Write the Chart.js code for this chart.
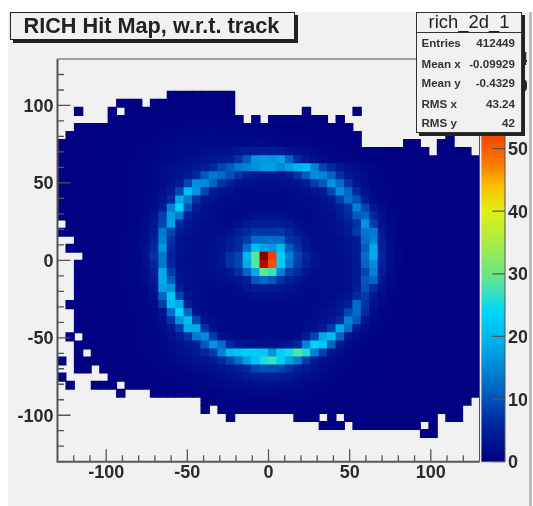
<!DOCTYPE html>
<html><head><meta charset="utf-8">
<script src="https://cdn.jsdelivr.net/npm/chart.js@4"></script>
<style>
html,body{margin:0;padding:0;background:#fff;width:533px;height:506px;overflow:hidden}
#wrap{position:absolute;left:0;top:0;width:533px;height:506px;filter:blur(0.55px);font-family:"Liberation Sans",Arial,sans-serif;color:#222}
#panel{position:absolute;left:8px;top:12px;width:521px;height:494px;background:#f1f1f1}
#strip{position:absolute;left:529px;top:12px;width:3px;height:494px;background:#bdbdbd}
canvas{position:absolute;top:0}
#main{left:0}
#bar{left:476px}
#title{position:absolute;left:10px;top:12px;width:283px;height:26px;border:1.4px solid #222;box-shadow:3px 3px 0 #222;background:#f1f1f1;box-sizing:content-box;font-weight:bold;font-size:21.7px;line-height:26px;white-space:nowrap;text-indent:12.5px}
#stats{position:absolute;left:416px;top:12px;width:104px;height:119px;border:1.2px solid #333;box-shadow:3px 3px 0 #222;background:#f1f1f1}
#stats .h{position:absolute;left:0;right:0;top:0;height:19px;border-bottom:1.2px solid #333;text-align:center;font-size:18.4px;line-height:18px}
#stats .r{position:absolute;left:4.5px;right:6px;font-size:11.6px;font-weight:bold;line-height:14px;color:#333}
#stats .r span{position:absolute;right:0;top:0}
</style></head><body>
<div id="wrap">
<div id="panel"></div><div id="strip"></div>
<canvas id="main" width="533" height="506"></canvas>
<canvas id="bar" width="51" height="506"></canvas>
<div id="title">RICH Hit Map, w.r.t. track</div>
<div id="stats"><div class="h">rich_2d_1</div></div>
</div>
<script>
const _ = null;
const titleText = "RICH Hit Map, w.r.t. track";
const xMin = -130, xMax = 130, yMin = -130, yMax = 130, binCount = 50, zMax = 643, bandCount = 160;
const statLabels = ["Entries","Mean x","Mean y","RMS x","RMS y"];
const statValues = ["412449","-0.09929","-0.4329","43.24","42"];
const statTops = [35,55.5,75,96,115];
const zTicks = [0,100,200,300,400,500,600];
const paletteValues = [0,60,100,150,200,240,270,300,350,400,440,470,500,550,600,643];
const paletteColors = [[0,0,128],[0,40,160],[0,85,185],[0,135,215],[0,185,240],[0,215,250],[60,225,190],[110,230,130],[170,235,70],[225,240,20],[250,190,0],[250,130,0],[250,90,0],[240,40,0],[180,10,0],[130,0,0]];
// Bin contents, top row (y = +130) first, left column (x = -130) first
const counts = [
[],[],[],[],
[_,_,_,_,_,_,_,_,_,_,_,_,_,3,3,4,4,4,3,3,3],
[_,_,_,_,_,_,_,3,3,3,_,3,3,3,4,4,4,5,5,4,4],
[_,_,3,_,_,_,3,_,3,3,3,4,4,5,5,5,6,6,6,5,5,_,_,_,_,_,_,_,_,3,_,_,_,_,_,3],
[_,_,_,_,_,_,3,3,3,4,4,5,5,6,6,7,8,8,8,7,7,6,_,5,_,5,5,4,4,3,3,3,_,3],
[_,_,3,3,3,3,3,4,4,5,5,6,7,8,8,9,10,10,10,9,9,8,8,7,7,7,6,6,5,5,4,4,3,3,3],
[_,3,3,3,3,3,4,4,5,5,6,7,8,9,10,11,12,13,13,12,12,11,10,10,9,9,8,8,7,6,6,5,4,4,3,3,_,_,_,_,_,_,_,_,_,_,3],
[3,3,3,3,3,4,4,5,5,6,7,8,10,12,13,14,15,16,17,16,16,15,15,14,14,13,12,11,10,9,8,7,6,5,4,3,_,_,_,_,_,3,3,_,_,3,3],
[3,3,3,3,4,4,5,5,6,7,9,11,13,15,17,19,20,22,24,25,28,34,40,40,42,42,38,30,22,16,13,10,9,8,7,6,5,4,4,3,3,3,3,3,_,3,3,3,3],
[3,3,3,3,4,4,5,6,7,8,10,12,15,18,20,23,26,30,34,38,45,69,105,165,170,165,175,115,60,38,25,16,12,10,8,7,6,5,4,4,3,3,3,3,3,3,3,3,3,3],
[3,3,3,3,4,4,5,6,7,9,11,14,18,22,26,30,38,45,60,87,105,135,145,155,175,175,150,175,195,205,145,87,60,35,25,18,12,9,7,5,4,4,3,3,3,3,3,3,3,3],
[3,3,3,3,4,4,5,6,7,9,11,14,18,24,30,40,60,105,135,125,96,69,45,38,35,35,35,38,69,105,155,145,115,69,38,25,16,11,8,6,4,4,3,3,3,3,3,3,3,3],
[3,3,3,3,4,4,5,6,8,9,11,14,20,28,40,87,155,155,115,69,45,30,25,22,22,22,22,24,28,38,78,105,165,125,69,32,18,12,8,6,4,4,3,3,3,3,3,3,3,3],
[3,3,3,3,4,4,5,6,8,10,12,16,22,40,87,205,165,87,40,28,22,20,18,18,18,18,18,18,20,24,30,40,87,155,115,60,30,16,10,7,5,4,3,3,3,3,3,3,3,3],
[3,3,3,3,4,4,5,6,8,10,12,18,30,60,185,135,69,35,25,20,18,17,16,16,16,16,16,17,18,20,24,28,38,78,125,96,38,20,12,8,5,4,3,3,3,3,3,3,3,3],
[3,3,3,3,4,4,5,6,8,10,13,20,45,145,235,96,40,25,20,18,16,16,16,16,16,16,16,16,16,18,20,24,30,45,69,145,87,35,16,10,6,4,3,3,3,3,3,3,3,3],
[3,3,3,3,4,4,5,6,8,10,14,28,78,170,140,50,28,22,18,16,16,16,18,22,24,24,22,18,16,16,18,22,26,38,60,105,115,60,25,12,7,5,3,3,3,3,3,3,3,3],
[_,3,3,3,4,4,5,6,8,11,16,35,87,175,60,32,24,20,18,18,20,22,38,45,45,45,45,38,22,18,18,20,24,30,45,69,165,78,30,14,8,5,4,3,3,3,3,3,3,3],
[3,3,3,3,4,4,5,7,9,12,18,40,135,87,38,28,22,20,20,22,28,45,60,72,70,70,72,60,35,24,20,20,22,28,38,78,135,135,35,15,8,5,4,3,3,3,3,3,3,3],
[_,_,3,3,4,4,5,7,9,13,20,50,145,69,30,24,20,20,22,28,40,60,78,125,125,125,125,69,60,30,22,20,20,24,30,40,125,145,45,16,8,5,4,3,3,3,3,3,3,3],
[_,3,3,3,4,4,5,7,9,13,22,60,165,60,28,22,20,20,24,30,45,60,125,205,180,165,200,105,69,35,24,20,20,22,28,38,105,185,50,18,9,5,4,3,3,3,3,3,3,3],
[_,_,_,3,4,4,5,7,9,14,24,70,135,50,26,22,20,22,26,35,69,87,195,290,640,530,225,145,87,55,28,22,20,22,28,40,125,185,55,18,9,5,4,3,3,3,3,3,3,3],
[_,_,3,3,4,4,5,7,9,13,22,55,135,60,26,22,20,22,26,35,69,87,185,285,600,510,225,135,78,50,28,22,20,22,26,38,115,155,50,18,9,5,4,3,3,3,3,3,3,3],
[_,_,3,3,4,4,5,7,9,12,20,45,185,78,28,22,20,20,22,26,35,69,115,185,295,270,145,78,60,30,22,20,20,22,26,38,87,145,45,16,8,5,4,3,3,3,3,3,3,3],
[_,_,3,3,4,4,5,7,9,11,18,38,185,105,30,22,20,18,20,22,26,32,45,105,125,105,69,45,32,24,20,18,18,20,24,36,105,115,35,14,8,5,4,3,3,3,3,3,3,3],
[_,_,3,3,4,4,5,6,8,10,15,30,175,165,45,25,18,16,16,18,20,24,34,40,42,40,36,30,24,20,18,18,18,20,26,45,96,60,25,12,7,5,4,3,3,3,3,3,3,3],
[_,_,3,3,4,4,5,6,8,10,14,22,115,215,87,30,20,16,16,16,16,18,20,24,24,24,22,20,18,16,16,18,20,24,30,60,78,30,16,10,6,5,4,3,3,3,3,3,3,3],
[_,3,3,3,4,4,5,6,7,9,12,18,78,205,185,45,20,16,15,15,15,15,16,16,16,16,16,16,16,15,16,18,24,30,45,125,69,25,13,8,6,4,3,3,3,3,3,3,3,3],
[_,_,3,3,4,4,5,6,7,8,11,15,28,125,240,115,30,18,15,14,14,14,14,14,14,14,14,14,15,16,18,22,28,38,87,125,60,20,11,7,5,4,3,3,3,3,3,3,3,3],
[_,_,3,3,4,4,5,6,7,8,10,13,22,69,165,205,87,28,18,15,14,14,14,14,14,14,14,14,15,16,20,26,35,60,145,105,30,16,10,7,5,4,3,3,3,3,3,3,3,3],
[_,_,3,3,4,4,5,5,6,8,10,12,18,35,78,185,185,69,25,17,15,14,14,14,14,14,14,15,16,20,26,40,78,185,125,38,18,11,8,6,4,3,3,3,3,3,3,3,3,3],
[_,3,_,3,3,4,4,5,6,7,9,11,15,25,38,69,135,155,78,28,18,16,15,15,15,15,15,16,20,40,87,185,205,115,32,18,11,8,6,4,4,3,3,3,3,3,3,3,3,3],
[_,_,3,3,3,4,4,5,6,7,8,10,13,18,25,35,45,105,165,125,60,35,28,25,25,25,28,35,55,145,235,215,115,38,18,11,8,6,5,4,3,3,3,3,3,3,3,3,3,3],
[_,_,3,_,3,4,4,5,6,7,8,9,12,16,22,30,40,55,78,145,205,215,228,228,220,165,228,250,285,255,145,78,32,18,12,8,6,5,4,4,3,3,3,3,3,3,3,3,3,3],
[3,_,3,3,3,4,4,4,5,6,7,8,10,13,17,22,28,32,38,60,87,125,175,215,255,270,228,175,145,78,38,26,18,12,9,7,5,4,4,3,3,3,3,3,3,3,3,3,3,3],
[_,_,3,3,_,3,4,4,5,5,6,7,8,10,12,15,18,20,24,30,38,45,60,87,96,96,87,69,50,38,28,20,14,10,8,6,5,4,3,3,3,3,3,3,3,3,3,3,3,3],
[3,_,_,_,_,_,3,4,4,5,5,6,7,8,9,10,12,14,16,20,26,30,38,42,45,45,42,38,30,24,18,14,10,8,6,5,4,4,3,3,3,3,3,3,3,3,3,3,3,3],
[_,3,_,_,3,3,3,_,4,4,5,5,6,6,7,8,9,10,12,14,16,18,20,22,22,22,20,18,16,14,12,10,8,6,5,4,4,3,3,3,3,3,3,3,3,3,3,3,3,3],
[_,_,_,_,_,_,_,3,_,_,_,4,4,5,5,6,6,7,8,9,10,11,12,13,13,13,12,11,10,9,8,7,6,5,4,4,3,3,3,3,3,3,3,3,3,3,3,3,3,3],
[_,_,_,_,_,_,_,_,_,_,_,_,_,_,_,_,_,5,5,6,6,7,8,8,8,8,7,7,6,6,5,5,4,4,3,3,3,3,3,3,3,3,3,3,3,3,3,3,3],
[_,_,_,_,_,_,_,_,_,_,_,_,_,_,_,_,_,4,_,4,5,5,5,5,5,5,5,5,5,4,4,4,3,3,3,3,3,3,3,3,3,3,3,3,3,3,3,3],
[_,_,_,_,_,_,_,_,_,_,_,_,_,_,_,_,_,_,_,_,3,_,_,_,_,_,_,_,3,3,3,_,3,_,3,3,3,3,3,3,3,3,3,3,3,_,3,3],
[_,_,_,_,_,_,_,_,_,_,_,_,_,_,_,_,_,_,_,_,_,_,_,_,_,_,_,_,_,_,_,3,3,3,_,3,3,3,3,3,3,3,3,_,3],
[_,_,_,_,_,_,_,_,_,_,_,_,_,_,_,_,_,_,_,_,_,_,_,_,_,_,_,_,_,_,_,_,_,_,_,_,_,_,_,_,_,_,_,3,3],
[],[],[]
];

function colorOf(v){
  let i = 0;
  while(i < paletteValues.length-2 && v > paletteValues[i+1]) i++;
  const t = Math.min(1,(v-paletteValues[i])/(paletteValues[i+1]-paletteValues[i]));
  const a = paletteColors[i], b = paletteColors[i+1];
  return `rgb(${a.map((c,k)=>Math.round(c+(b[k]-c)*t)).join(',')})`;
}
const xBin = (xMax-xMin)/binCount, yBin = (yMax-yMin)/binCount;
const cells = [];
counts.forEach((row,r)=>row.forEach((v,c)=>{
  if(v===null) return;
  const top = yMax-r*yBin;
  cells.push({x:xMin+(c+0.5)*xBin, y:[top-yBin,top], v});
}));

const labelFont = {family:'"Liberation Sans",Arial,sans-serif',size:18,weight:'bold'};
const inkColor = '#2b2b2b';
const frameColor = '#555';
const zeroPad = s => {s.paddingLeft=0;s.paddingRight=0;s.paddingTop=0;s.paddingBottom=0;};

const frameTicks = {
  id:'frameTicks',
  afterDatasetsDraw(chart){
    const {ctx,chartArea:a,scales:{x,y}} = chart;
    ctx.save();
    ctx.strokeStyle = frameColor;
    ctx.lineWidth = 1;
    ctx.beginPath();ctx.moveTo(a.left,a.top);ctx.lineTo(a.right,a.top);ctx.lineTo(a.right,a.bottom);ctx.stroke();
    ctx.lineWidth = 2;
    ctx.beginPath();ctx.moveTo(a.left,a.top);ctx.lineTo(a.left,a.bottom);ctx.lineTo(a.right,a.bottom);ctx.stroke();
    ctx.lineWidth = 1.3;
    ctx.beginPath();
    x.ticks.forEach(t=>{
      if(Math.abs(t.value)===130) return;
      const p = x.getPixelForValue(t.value), len = t.value%50===0?12.5:6.5;
      ctx.moveTo(p,a.bottom);ctx.lineTo(p,a.bottom-len);
    });
    y.ticks.forEach(t=>{
      if(Math.abs(t.value)===130) return;
      const p = y.getPixelForValue(t.value), len = t.value%50===0?13:6.5;
      ctx.moveTo(a.left,p);ctx.lineTo(a.left+len,p);
    });
    ctx.stroke();
    ctx.restore();
  }
};

new Chart(document.getElementById('main'),{
  type:'bar',
  data:{datasets:[{label:'rich_2d_1',data:cells,grouped:false,barPercentage:1,categoryPercentage:1,borderWidth:0,inflateAmount:0.5,
    backgroundColor:c=>colorOf(c.raw.v)}]},
  options:{
    responsive:false,animation:false,events:[],
    layout:{padding:{left:0,top:59,right:53.5,bottom:0}},
    plugins:{legend:{display:false},tooltip:{enabled:false},title:{display:false}},
    scales:{
      x:{type:'linear',min:xMin,max:xMax,offset:false,
        grid:{display:false,drawTicks:false},border:{display:false},
        afterFit:s=>{s.height=44.3;zeroPad(s);},
        ticks:{stepSize:10,autoSkip:false,maxRotation:0,minRotation:0,padding:1,color:inkColor,font:labelFont,
          callback:v=>v%50===0&&Math.abs(v)!==130?String(v):''}},
      y:{type:'linear',min:yMin,max:yMax,
        grid:{display:false,drawTicks:false},border:{display:false},
        afterFit:s=>{s.width=57.5;zeroPad(s);},
        ticks:{stepSize:10,autoSkip:false,padding:4,labelOffset:1.5,color:inkColor,font:labelFont,
          callback:v=>v%50===0&&Math.abs(v)!==130?String(v):''}}
    }
  },
  plugins:[frameTicks]
});

// Palette axis
const bandStep = zMax/bandCount;
const bandDatasets = [];
for(let b=0;b<bandCount;b++){
  bandDatasets.push({data:[[b*bandStep,(b+1)*bandStep]],grouped:false,barPercentage:1,categoryPercentage:1,borderWidth:0,inflateAmount:0.5,
    backgroundColor:colorOf((b+0.5)*bandStep)});
}
const barFrame = {
  id:'barFrame',
  afterDatasetsDraw(chart){
    const {ctx,chartArea:a,scales:{y}} = chart;
    ctx.save();
    ctx.strokeStyle = frameColor;ctx.lineWidth = 1;
    ctx.beginPath();ctx.moveTo(a.left,a.bottom);ctx.lineTo(a.right,a.bottom);ctx.lineTo(a.right,a.top);ctx.stroke();
    ctx.lineWidth = 1.3;ctx.beginPath();
    zTicks.forEach(t=>{const p=y.getPixelForValue(t);ctx.moveTo(a.right,p);ctx.lineTo(a.right-12.7,p);});
    ctx.stroke();ctx.restore();
  }
};
new Chart(document.getElementById('bar'),{
  type:'bar',
  data:{labels:['z'],datasets:bandDatasets},
  options:{
    responsive:false,animation:false,events:[],
    layout:{padding:{left:5.5,top:59,right:0,bottom:44.3}},
    plugins:{legend:{display:false},tooltip:{enabled:false}},
    scales:{
      x:{display:false},
      y:{position:'right',min:0,max:zMax,
        grid:{display:false,drawTicks:false},border:{display:false},
        afterFit:s=>{s.width=22;zeroPad(s);},
        ticks:{stepSize:100,autoSkip:false,padding:3,labelOffset:1.5,color:inkColor,font:labelFont}}
    }
  },
  plugins:[barFrame]
});

const stats = document.getElementById('stats');
statLabels.forEach((l,i)=>{
  const d = document.createElement('div');
  d.className='r';d.style.top=(statTops[i]-12)+'px';d.textContent=l;
  const s = document.createElement('span');s.textContent=statValues[i];d.appendChild(s);
  stats.appendChild(d);
});
</script>
</body></html>
